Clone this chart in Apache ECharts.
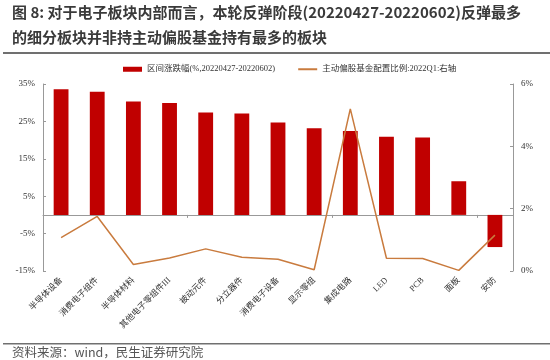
<!DOCTYPE html>
<html><head><meta charset="utf-8">
<script src="https://cdn.jsdelivr.net/npm/echarts@6/dist/echarts.min.js"></script>
<style>html,body{margin:0;padding:0;background:#fff}#c{width:550px;height:360px}</style>
</head><body><div id="c"></div>
<script>
const categories = ['半导体设备','消费电子组件','半导体材料','其他电子零组件III','被动元件','分立器件','消费电子设备','显示零组','集成电路','LED','PCB','面板','安防'];
const barValues = [33.6, 32.9, 30.3, 29.9, 27.4, 27.1, 24.7, 23.2, 22.4, 20.9, 20.7, 9.0, -8.6];
const lineValues = [1.07, 1.75, 0.21, 0.42, 0.71, 0.44, 0.38, 0.04, 5.2, 0.41, 0.40, 0.02, 1.15];
const barName = '区间涨跌幅(%,20220427-20220602)';
const lineName = '主动偏股基金配置比例:2022Q1:右轴';
const titleLines = ['图 8: 对于电子板块内部而言，本轮反弹阶段(20220427-20220602)反弹最多','的细分板块并非持主动偏股基金持有最多的板块'];
const sourceText = '资料来源：wind，民生证券研究院';

const serif = '"Liberation Serif", "Noto Sans CJK SC", serif';
const cjk = '"Noto Sans CJK SC", sans-serif';
const chart = echarts.init(document.getElementById('c'));
chart.setOption({
  animation: false,
  grid: {left: 43, right: 37, top: 84, bottom: 89, containLabel: false},
  legend: {
    top: 60, left: 118, itemGap: 22,
    textStyle: {fontFamily: serif, fontSize: 8.5, color: '#333'},
    data: [
      {name: barName, icon: 'rect', itemStyle: {color: '#C00000'}},
      {name: lineName, itemStyle: {opacity: 0}}
    ],
    itemWidth: 19, itemHeight: 5
  },
  graphic: [
    {type: 'text', left: 12, top: 5, style: {text: titleLines[0], font: 'bold 15px ' + cjk, fill: '#3a3a3a'}},
    {type: 'text', left: 12, top: 30, style: {text: titleLines[1], font: 'bold 15px ' + cjk, fill: '#3a3a3a'}},
    {type: 'rect', shape: {x: 3, y: 52, width: 547, height: 2}, style: {fill: '#707070'}},
    {type: 'rect', shape: {x: 3, y: 343, width: 547, height: 1.5}, style: {fill: '#707070'}},
    {type: 'text', left: 12, top: 346, style: {text: sourceText, font: '12.5px ' + cjk, fill: '#555'}}
  ],
  xAxis: [
    {type: 'category', data: categories, position: 'bottom',
     axisLine: {show: false}, axisTick: {show: false},
     axisLabel: {rotate: 45, interval: 0, margin: 8, fontFamily: serif, fontSize: 8.5, color: '#333'}},
    {type: 'category', data: categories, position: 'bottom', gridIndex: 0,
     axisLine: {show: true, onZero: true, onZeroAxisIndex: 0, lineStyle: {color: '#999', width: 1}},
     axisTick: {show: true, length: 3, lineStyle: {color: '#999'}},
     axisLabel: {show: false}}
  ],
  yAxis: [
    {type: 'value', min: -15, max: 35, interval: 10, splitLine: {show: false},
     axisLine: {show: true, lineStyle: {color: '#999'}},
     axisTick: {show: true, inside: true, length: 3, lineStyle: {color: '#999'}},
     axisLabel: {formatter: '{value}%', fontFamily: serif, fontSize: 9, color: '#333', margin: 8}},
    {type: 'value', min: 0, max: 6, interval: 2, position: 'right', splitLine: {show: false},
     axisLine: {show: true, lineStyle: {color: '#999'}},
     axisTick: {show: true, inside: true, length: 3, lineStyle: {color: '#999'}},
     axisLabel: {formatter: '{value}%', fontFamily: serif, fontSize: 9, color: '#333', margin: 8}}
  ],
  series: [
    {name: barName, type: 'bar', data: barValues, xAxisIndex: 0, yAxisIndex: 0, barWidth: '41%',
     itemStyle: {color: '#C00000'}},
    {name: lineName, type: 'line', data: lineValues, xAxisIndex: 0, yAxisIndex: 1, symbol: 'none',
     lineStyle: {color: '#C97B3E', width: 1.5}, itemStyle: {color: '#C97B3E'}}
  ]
});
</script></body></html>
